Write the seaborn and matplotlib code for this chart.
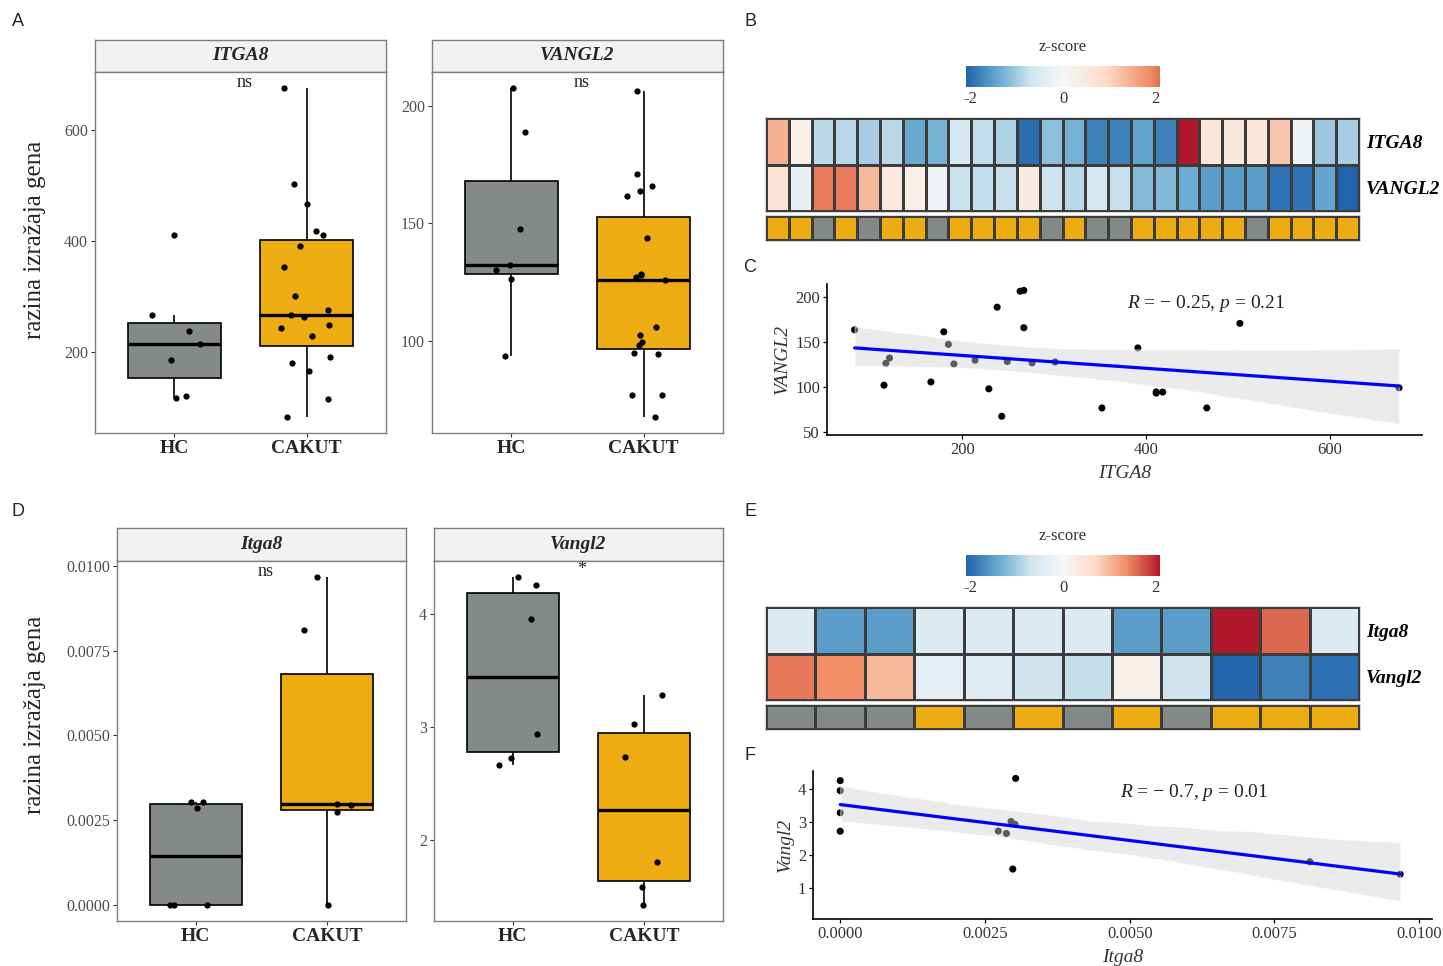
import numpy as np
import pandas as pd
import seaborn as sb
import matplotlib
matplotlib.use('Agg')
import matplotlib.pyplot as plt
from matplotlib.colors import LinearSegmentedColormap, ListedColormap, TwoSlopeNorm
from matplotlib.cm import ScalarMappable
from matplotlib.ticker import FormatStrFormatter

#groups and colours
groups = ['HC', 'CAKUT']
group_colors = {'HC': '#858a88', 'CAKUT': '#edad12'}

#human expression (panel A / C), paired per sample
itga8_hc = [267, 238, 185, 121, 214, 117, 411]
vangl2_hc = [207.4, 188.8, 147.5, 132.4, 130.0, 126.5, 93.5]
itga8_cakut = [675, 502, 466, 418, 411, 391, 352, 301, 276, 267, 263, 249, 243, 229, 191, 180, 166, 115, 83]
vangl2_cakut = [99.4, 170.8, 77.0, 94.6, 94.8, 143.6, 77.0, 128.0, 127.0, 166.0, 206.5, 128.5, 67.8, 98.2, 125.8, 161.5, 105.8, 102.3, 163.7]

#mouse expression (panel D / F), paired per sample
itga8_m_hc = [0.00303, 0.00287, 0.00302, 0.0, 0.0, 0.0]
vangl2_m_hc = [4.326, 2.662, 2.938, 4.259, 3.956, 2.729]
itga8_m_cakut = [0.0, 0.00273, 0.00295, 0.00298, 0.00811, 0.00967]
vangl2_m_cakut = [3.288, 2.735, 3.024, 1.585, 1.806, 1.429]

#heatmap z-scores (panel B), column order as shown
heat_b_genes = ['ITGA8', 'VANGL2']
heat_b_itga8 = [1.45, 0.27, -0.84, -0.86, -0.97, -0.84, -1.38, -1.3, -0.61, -0.8, -0.93, -2.0, -1.14,
                -1.3, -1.82, -1.82, -1.43, -1.8, 2.85, 0.57, 0.57, 0.57, 1.19, -0.15, -1.04, -0.97]
heat_b_vangl2 = [0.68, -0.26, 2.02, 2.02, 1.36, 0.5, 0.27, -0.17, -0.75, -0.8, -0.77, 0.41, -0.72,
                 -0.84, -0.61, -0.77, -1.2, -1.23, -1.37, -1.52, -1.52, -1.52, -1.96, -1.96, -1.43, -2.1]
heat_b_group = ['CAKUT', 'CAKUT', 'HC', 'CAKUT', 'HC', 'CAKUT', 'CAKUT', 'HC', 'CAKUT', 'CAKUT',
                'CAKUT', 'CAKUT', 'HC', 'CAKUT', 'HC', 'HC', 'CAKUT', 'CAKUT', 'CAKUT', 'CAKUT',
                'CAKUT', 'HC', 'CAKUT', 'CAKUT', 'CAKUT', 'CAKUT']

#heatmap z-scores (panel E)
heat_e_genes = ['Itga8', 'Vangl2']
heat_e_itga8 = [-0.5, -1.52, -1.52, -0.5, -0.5, -0.5, -0.5, -1.52, -1.52, 2.1, 1.6, -0.5]
heat_e_vangl2 = [1.5, 1.35, 1.0, -0.33, -0.44, -0.72, -0.78, 0.18, -0.72, -2.1, -1.79, -1.97]
heat_e_group = ['HC', 'HC', 'HC', 'CAKUT', 'HC', 'CAKUT', 'HC', 'CAKUT', 'HC', 'CAKUT', 'CAKUT', 'CAKUT']

ylabel_text = 'razina izražaja gena'

sb.set_style('white')
plt.rcParams['font.family'] = ['Liberation Serif', 'DejaVu Serif']
plt.rcParams['mathtext.fontset'] = 'custom'
plt.rcParams['mathtext.rm'] = 'Liberation Serif'
plt.rcParams['mathtext.it'] = 'Liberation Serif:italic'
plt.rcParams['axes.unicode_minus'] = False

W, H = 1443, 966
fig = plt.figure(figsize=(W / 100, H / 100), dpi=100)


def place(l, t, r, b):
    return fig.add_axes([l / W, 1 - b / H, (r - l) / W, (b - t) / H])


def long_df(hc, cakut):
    return pd.DataFrame({'group': ['HC'] * len(hc) + ['CAKUT'] * len(cakut),
                         'value': list(hc) + list(cakut)})


#boxplot facet with strip on top
def facet(l, r, ts, t, b, hc, cakut, title, ticks, fmt, sig):
    strip = place(l, ts, r, t)
    strip.set_facecolor('#f2f2f2')
    strip.set_xticks([])
    strip.set_yticks([])
    for s in strip.spines.values():
        s.set_color('#7f7f7f')
        s.set_linewidth(1.0)
    strip.text(0.5, 0.5, title, ha='center', va='center', fontsize=14,
               fontweight='bold', fontstyle='italic', transform=strip.transAxes)

    ax = place(l, t, r, b)
    df = long_df(hc, cakut)
    sb.boxplot(data=df, x='group', y='value', hue='group', order=groups, hue_order=groups,
               palette=group_colors, legend=False, width=0.7, showfliers=False,
               linewidth=1.2, linecolor='black', saturation=1,
               medianprops={'linewidth': 2.4}, capprops={'visible': False}, ax=ax)
    sb.stripplot(data=df, x='group', y='value', order=groups, color='black', size=4.5,
                 jitter=0.2, ax=ax, zorder=3)
    ax.set_xlim(-0.6, 1.6)
    ax.set_yticks(ticks)
    if fmt:
        ax.yaxis.set_major_formatter(FormatStrFormatter(fmt))
    ax.set_xlabel('')
    ax.set_ylabel('')
    for s in ax.spines.values():
        s.set_visible(True)
        s.set_color('#7f7f7f')
        s.set_linewidth(1.0)
    ax.tick_params(axis='y', length=3, width=0.8, color='#333333', labelcolor='#4d4d4d',
                   labelsize=11.5, left=True, pad=2)
    ax.tick_params(axis='x', length=3, width=0.8, color='#333333', labelsize=14, bottom=True, pad=2)
    for lbl in ax.get_xticklabels():
        lbl.set_fontweight('bold')
    ax.text(0.53 if sig == 'ns' else 0.52, 0.97 if sig == 'ns' else 0.975, sig,
            transform=ax.get_xaxis_transform(), ha='center', va='center',
            fontsize=13, color='#222222')
    return ax


np.random.seed(7)
facet(95, 386, 40, 72, 433, itga8_hc, itga8_cakut, 'ITGA8', [200, 400, 600], None, 'ns')
facet(432, 723, 40, 72, 433, vangl2_hc, vangl2_cakut, 'VANGL2', [100, 150, 200], None, 'ns')
facet(117, 406, 528, 561, 921, itga8_m_hc, itga8_m_cakut, 'Itga8',
      [0, 0.0025, 0.005, 0.0075, 0.01], '%.4f', 'ns')
facet(434, 723, 528, 561, 921, vangl2_m_hc, vangl2_m_cakut, 'Vangl2', [2, 3, 4], None, '*')

fig.text(35 / W, 1 - 240 / H, ylabel_text, rotation=90, ha='center', va='center', fontsize=18)
fig.text(35 / W, 1 - 715 / H, ylabel_text, rotation=90, ha='center', va='center', fontsize=18)

#heatmaps
zcmap = LinearSegmentedColormap.from_list(
    'zscore', ['#2166AC', '#67A9CF', '#D1E5F0', '#F7F7F7', '#FDDBC7', '#EF8A62', '#B2182B'])
group_cmap = ListedColormap([group_colors['HC'], group_colors['CAKUT']])


def heat_panel(top, genes, row1, row2, grp, norm, cb_top):
    bot = top + 93
    axh = place(766, top, 1359, bot)
    hm = pd.DataFrame([row1, row2], index=genes)
    sb.heatmap(hm, ax=axh, cmap=zcmap, norm=norm, cbar=False, linewidths=0.8,
               linecolor='#3c3c3c', xticklabels=False, yticklabels=True)
    axh.yaxis.tick_right()
    axh.tick_params(axis='y', length=0, pad=5, labelsize=14, labelcolor='black')
    for lbl in axh.get_yticklabels():
        lbl.set_rotation(0)
        lbl.set_fontweight('bold')
        lbl.set_fontstyle('italic')
    for s in axh.spines.values():
        s.set_visible(True)
        s.set_color('#3c3c3c')
        s.set_linewidth(1.0)

    axa = place(766, bot + 5, 1359, bot + 29)
    ann = pd.DataFrame([[groups.index(g) for g in grp]])
    sb.heatmap(ann, ax=axa, cmap=group_cmap, vmin=0, vmax=1, cbar=False, linewidths=0.8,
               linecolor='#3c3c3c', xticklabels=False, yticklabels=False)
    for s in axa.spines.values():
        s.set_visible(True)
        s.set_color('#3c3c3c')
        s.set_linewidth(1.0)

    cax = place(966, cb_top, 1160, cb_top + 21)
    sm = ScalarMappable(norm=norm, cmap=zcmap)
    cb = fig.colorbar(sm, cax=cax, orientation='horizontal',
                      boundaries=np.linspace(-2.1, 2.1, 300), ticks=[-2, 0, 2])
    cb.outline.set_visible(False)
    cax.xaxis.set_ticks_position('both')
    cax.tick_params(axis='x', direction='in', color='white', length=3, width=1,
                    labelcolor='#333333', labelsize=12, pad=3)
    cax.set_xticklabels(['-2', '0', '2'])
    cax.set_title('z-score', fontsize=12, pad=11, color='#333333')


heat_panel(118, heat_b_genes, heat_b_itga8, heat_b_vangl2, heat_b_group,
           TwoSlopeNorm(vmin=-2.1, vcenter=0, vmax=2.85), 66)
heat_panel(607, heat_e_genes, heat_e_itga8, heat_e_vangl2, heat_e_group,
           TwoSlopeNorm(vmin=-2.1, vcenter=0, vmax=2.1), 555)


#correlation scatter with lm fit
def corr_panel(l, t, r, b, x, y, xlab, ylab, xlim, ylim, xticks, yticks, fmt, label, lx, ly):
    ax = place(l, t, r, b)
    sb.scatterplot(x=x, y=y, color='black', s=26, edgecolor='none', ax=ax, zorder=1)
    n_before = len(ax.collections)
    sb.regplot(x=np.array(x), y=np.array(y), scatter=False, color='#888888',
               line_kws={'alpha': 0}, seed=3, ax=ax)
    for coll in ax.collections[n_before:]:
        coll.set_facecolor('#d2d2d2')
        coll.set_alpha(0.43)
    sb.regplot(x=np.array(x), y=np.array(y), scatter=False, ci=None, color='#0000ff',
               line_kws={'linewidth': 2.3}, ax=ax)
    ax.set_xlim(*xlim)
    ax.set_ylim(*ylim)
    ax.set_xticks(xticks)
    ax.set_yticks(yticks)
    if fmt:
        ax.xaxis.set_major_formatter(FormatStrFormatter(fmt))
    sb.despine(ax=ax)
    for s in ['left', 'bottom']:
        ax.spines[s].set_color('black')
        ax.spines[s].set_linewidth(1.2)
    ax.tick_params(length=3, width=0.9, color='black', labelcolor='#333333', labelsize=12,
                   left=True, bottom=True, pad=2)
    ax.set_xlabel(xlab, fontsize=14, fontstyle='italic', color='#333333', labelpad=5)
    ax.set_ylabel(ylab, fontsize=14, fontstyle='italic', color='#333333', labelpad=3)
    ax.text(lx, ly, label, transform=ax.transAxes, ha='left', va='center', fontsize=14,
            color='#222222')
    return ax


corr_panel(827, 284, 1422, 435, itga8_hc + itga8_cakut, vangl2_hc + vangl2_cakut,
           'ITGA8', 'VANGL2', (53, 700), (47, 214.5), [200, 400, 600], [50, 100, 150, 200],
           None, '$R$ = \u2212 0.25, $p$ = 0.21', 0.504, 0.874)
corr_panel(813, 771, 1432, 919, itga8_m_hc + itga8_m_cakut, vangl2_m_hc + vangl2_m_cakut,
           'Itga8', 'Vangl2', (-0.00047, 0.01022), (0.075, 4.55),
           [0, 0.0025, 0.005, 0.0075, 0.01], [1, 2, 3, 4],
           '%.4f', '$R$ = \u2212 0.7, $p$ = 0.01', 0.496, 0.858)

#panel letters
for letter, px, py in [('A', 18, 22), ('B', 750, 22), ('C', 750, 267),
                       ('D', 18, 511), ('E', 750, 511), ('F', 750, 755)]:
    fig.text(px / W, 1 - py / H, letter, ha='center', va='center', fontsize=13,
             family='Liberation Sans')

plt.savefig('out.png', dpi=100)
